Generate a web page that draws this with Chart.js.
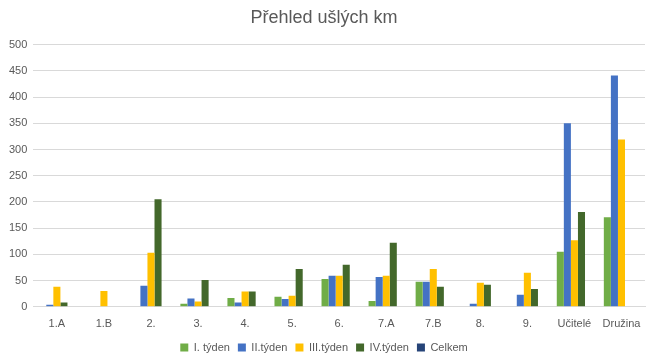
<!DOCTYPE html>
<html>
<head>
<meta charset="utf-8">
<script src="https://cdn.jsdelivr.net/npm/chart.js@4"></script>
<style>
    html, body { margin: 0; padding: 0; background: #fff; }
    #wrap { width: 656px; height: 363px; }
</style>
</head>
<body>
<div id="wrap"><canvas id="chart"></canvas></div>
<script>
const categories = ['1.A', '1.B', '2.', '3.', '4.', '5.', '6.', '7.A', '7.B', '8.', '9.', 'Učitelé', 'Družina'];
const week1 = [0, 0, 0, 6, 17, 19, 53, 11, 48, 0, 0, 105, 171];
const week2 = [4, 0, 40, 16, 8, 15, 59, 57, 48, 6, 23, 350, 441];
const week3 = [38, 30, 103, 10, 29, 21, 59, 59, 72, 46, 65, 127, 319];
const week4 = [8, 0, 205, 51, 29, 72, 80, 122, 38, 42, 34, 181, 0];
const total = [0, 0, 0, 0, 0, 0, 0, 0, 0, 0, 0, 0, 0];

const textColor = '#595959';
const font = { family: 'Liberation Sans', size: 11 };

function series(label, data, color) {
    return {
        label: label,
        data: data,
        backgroundColor: color,
        borderWidth: 0,
        categoryPercentage: 0.75,
        barPercentage: 1
    };
}

new Chart(document.getElementById('chart').getContext('2d'), {
    type: 'bar',
    data: {
        labels: categories,
        datasets: [
            series('I. týden', week1, '#70AD47'),
            series('II.týden', week2, '#4472C4'),
            series('III.týden', week3, '#FFC000'),
            series('IV.týden', week4, '#43682B'),
            series('Celkem', total, '#264478')
        ]
    },
    options: {
        responsive: true,
        maintainAspectRatio: false,
        animation: false,
        layout: { padding: { left: 3, right: 11, top: 7, bottom: 0 } },
        plugins: {
            title: {
                display: true,
                text: 'Přehled ušlých km',
                color: textColor,
                font: { family: 'Liberation Sans', size: 18, weight: 'normal' },
                padding: { top: 0, bottom: 16 }
            },
            legend: {
                position: 'bottom',
                labels: {
                    color: textColor,
                    font: font,
                    boxWidth: 8,
                    boxHeight: 8,
                    padding: 8
                }
            },
            tooltip: { enabled: false }
        },
        scales: {
            x: {
                grid: { display: false },
                border: { color: '#D9D9D9' },
                ticks: { color: textColor, font: font, maxRotation: 0, autoSkip: false }
            },
            y: {
                min: 0,
                max: 500,
                ticks: { stepSize: 50, color: textColor, font: font, padding: 6 },
                grid: { color: '#D9D9D9', drawTicks: false },
                border: { display: false }
            }
        }
    }
});
</script>
</body>
</html>
